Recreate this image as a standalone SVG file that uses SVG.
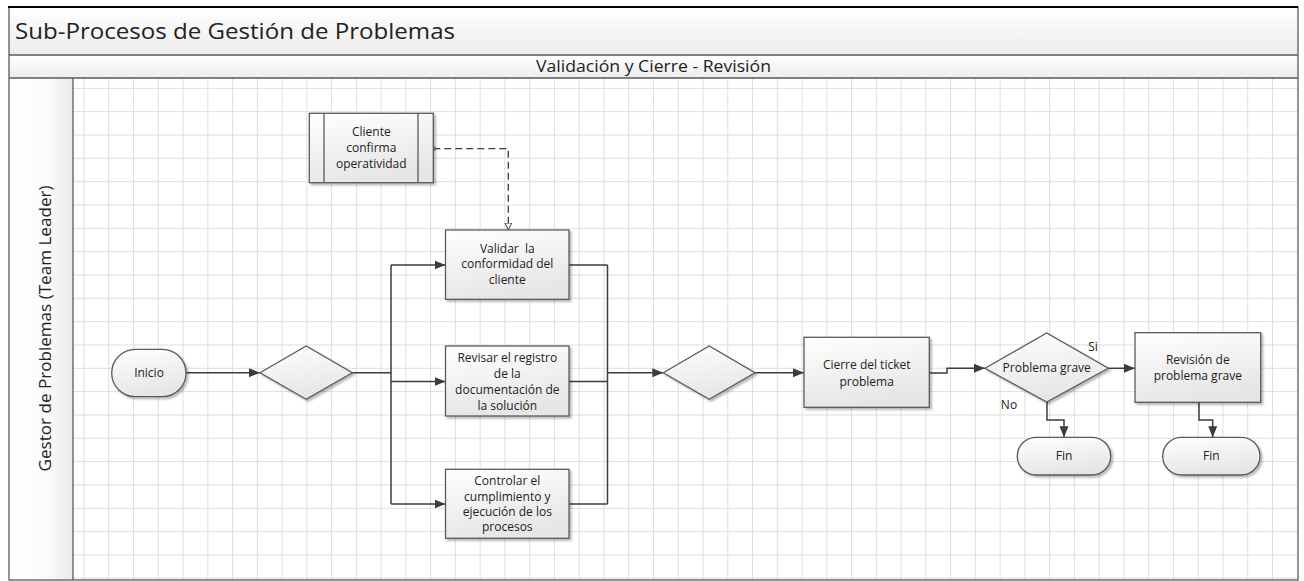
<svg xmlns="http://www.w3.org/2000/svg" width="1304" height="581" viewBox="0 0 1304 581">
  <defs>
    <linearGradient id="barFill" x1="0" y1="0" x2="0" y2="1">
      <stop offset="0" stop-color="#ffffff"/>
      <stop offset="1" stop-color="#ececec"/>
    </linearGradient>
    <linearGradient id="laneFill" x1="0" y1="0" x2="1" y2="0">
      <stop offset="0" stop-color="#ffffff"/>
      <stop offset="0.6" stop-color="#fbfbfb"/>
      <stop offset="1" stop-color="#e9e9e9"/>
    </linearGradient>
    <linearGradient id="shapeFill" x1="0" y1="0" x2="0.3" y2="1">
      <stop offset="0" stop-color="#ffffff"/>
      <stop offset="1" stop-color="#e6e6e6"/>
    </linearGradient>
    <filter id="shadow" x="-10%" y="-10%" width="130%" height="130%">
      <feDropShadow dx="2" dy="2" stdDeviation="1" flood-color="#000" flood-opacity="0.28"/>
    </filter>
    <marker id="arrow" markerUnits="userSpaceOnUse" markerWidth="12" markerHeight="10" refX="11" refY="4.5" orient="auto">
      <path d="M0,0 L11,4.5 L0,9 z" fill="#3c3c3c"/>
    </marker>
    <marker id="openArrow" markerUnits="userSpaceOnUse" markerWidth="10" markerHeight="10" refX="7" refY="4" orient="auto">
      <path d="M0.5,0.5 L7,4 L0.5,7.5 z" fill="#fff" stroke="#3c3c3c" stroke-width="1"/>
    </marker>
    <marker id="dot" markerUnits="userSpaceOnUse" markerWidth="6" markerHeight="6" refX="3" refY="3">
      <circle cx="3" cy="3" r="2" fill="#fff" stroke="#3c3c3c" stroke-width="1"/>
    </marker>
  </defs>
  <style>
    .grid line { stroke: #dedede; stroke-width: 1; }
    .frame { fill: none; stroke: #5a5a5a; stroke-width: 1.3; }
    .shape { fill: url(#shapeFill); stroke: #5a5a5a; stroke-width: 1.3; filter: url(#shadow); }
    .inner { stroke: #5a5a5a; stroke-width: 1.3; fill: none; }
    .label { font-family: "Open Sans", "Noto Sans", sans-serif; font-size: 12px; fill: #222; text-anchor: middle; }
    .conn { fill: none; stroke: #3c3c3c; stroke-width: 1.5; }
    .arrowed { marker-end: url(#arrow); }
    .dashed { stroke-dasharray: 7 4; stroke-width: 1.3; marker-start: url(#dot); marker-end: url(#openArrow); }
  </style>

  <rect width="1304" height="581" fill="#ffffff"/>

  <!-- pool header bars -->
  <rect x="9" y="7" width="1289" height="48" fill="url(#barFill)"/>
  <rect x="9" y="55" width="1289" height="23" fill="url(#barFill)"/>
  <rect x="9" y="78" width="64" height="502" fill="url(#laneFill)"/>

  <!-- background grid -->
  <g class="grid" id="grid">
    <line x1="84" y1="78" x2="84" y2="580"/><line x1="108.76" y1="78" x2="108.76" y2="580"/><line x1="133.52" y1="78" x2="133.52" y2="580"/><line x1="158.28" y1="78" x2="158.28" y2="580"/><line x1="183.04" y1="78" x2="183.04" y2="580"/><line x1="207.8" y1="78" x2="207.8" y2="580"/><line x1="232.56" y1="78" x2="232.56" y2="580"/><line x1="257.32" y1="78" x2="257.32" y2="580"/><line x1="282.08" y1="78" x2="282.08" y2="580"/><line x1="306.84" y1="78" x2="306.84" y2="580"/><line x1="331.6" y1="78" x2="331.6" y2="580"/><line x1="356.36" y1="78" x2="356.36" y2="580"/><line x1="381.12" y1="78" x2="381.12" y2="580"/><line x1="405.88" y1="78" x2="405.88" y2="580"/><line x1="430.64" y1="78" x2="430.64" y2="580"/><line x1="455.4" y1="78" x2="455.4" y2="580"/><line x1="480.16" y1="78" x2="480.16" y2="580"/><line x1="504.92" y1="78" x2="504.92" y2="580"/><line x1="529.68" y1="78" x2="529.68" y2="580"/><line x1="554.44" y1="78" x2="554.44" y2="580"/><line x1="579.2" y1="78" x2="579.2" y2="580"/><line x1="603.96" y1="78" x2="603.96" y2="580"/><line x1="628.72" y1="78" x2="628.72" y2="580"/><line x1="653.48" y1="78" x2="653.48" y2="580"/><line x1="678.24" y1="78" x2="678.24" y2="580"/><line x1="703" y1="78" x2="703" y2="580"/><line x1="727.76" y1="78" x2="727.76" y2="580"/><line x1="752.52" y1="78" x2="752.52" y2="580"/><line x1="777.28" y1="78" x2="777.28" y2="580"/><line x1="802.04" y1="78" x2="802.04" y2="580"/><line x1="826.8" y1="78" x2="826.8" y2="580"/><line x1="851.56" y1="78" x2="851.56" y2="580"/><line x1="876.32" y1="78" x2="876.32" y2="580"/><line x1="901.08" y1="78" x2="901.08" y2="580"/><line x1="925.84" y1="78" x2="925.84" y2="580"/><line x1="950.6" y1="78" x2="950.6" y2="580"/><line x1="975.36" y1="78" x2="975.36" y2="580"/><line x1="1000.12" y1="78" x2="1000.12" y2="580"/><line x1="1024.88" y1="78" x2="1024.88" y2="580"/><line x1="1049.64" y1="78" x2="1049.64" y2="580"/><line x1="1074.4" y1="78" x2="1074.4" y2="580"/><line x1="1099.16" y1="78" x2="1099.16" y2="580"/><line x1="1123.92" y1="78" x2="1123.92" y2="580"/><line x1="1148.68" y1="78" x2="1148.68" y2="580"/><line x1="1173.44" y1="78" x2="1173.44" y2="580"/><line x1="1198.2" y1="78" x2="1198.2" y2="580"/><line x1="1222.96" y1="78" x2="1222.96" y2="580"/><line x1="1247.72" y1="78" x2="1247.72" y2="580"/><line x1="1272.48" y1="78" x2="1272.48" y2="580"/>
    <line x1="73" y1="88.33" x2="1298" y2="88.33"/><line x1="73" y1="111.66" x2="1298" y2="111.66"/><line x1="73" y1="134.99" x2="1298" y2="134.99"/><line x1="73" y1="158.32" x2="1298" y2="158.32"/><line x1="73" y1="181.65" x2="1298" y2="181.65"/><line x1="73" y1="204.98" x2="1298" y2="204.98"/><line x1="73" y1="228.31" x2="1298" y2="228.31"/><line x1="73" y1="251.64" x2="1298" y2="251.64"/><line x1="73" y1="274.97" x2="1298" y2="274.97"/><line x1="73" y1="298.3" x2="1298" y2="298.3"/><line x1="73" y1="321.63" x2="1298" y2="321.63"/><line x1="73" y1="344.96" x2="1298" y2="344.96"/><line x1="73" y1="368.29" x2="1298" y2="368.29"/><line x1="73" y1="391.62" x2="1298" y2="391.62"/><line x1="73" y1="414.95" x2="1298" y2="414.95"/><line x1="73" y1="438.28" x2="1298" y2="438.28"/><line x1="73" y1="461.61" x2="1298" y2="461.61"/><line x1="73" y1="484.94" x2="1298" y2="484.94"/><line x1="73" y1="508.27" x2="1298" y2="508.27"/><line x1="73" y1="531.6" x2="1298" y2="531.6"/><line x1="73" y1="554.93" x2="1298" y2="554.93"/><line x1="73" y1="578.26" x2="1298" y2="578.26"/>
  </g>

  <!-- pool frame -->
  <g id="pool">
    <rect class="frame" x="9" y="7" width="1289" height="573"/>
    <line x1="9" y1="55" x2="1298" y2="55" stroke="#5a5a5a" stroke-width="1.3"/>
    <line x1="9" y1="78" x2="1298" y2="78" stroke="#5a5a5a" stroke-width="1.3"/>
    <line x1="73" y1="78" x2="73" y2="580" stroke="#5a5a5a" stroke-width="1.3"/>
    <line x1="8" y1="7" x2="1298" y2="7" stroke="#000" stroke-width="2"/>
    <text x="15" y="38.5" font-family="'Open Sans', 'Noto Sans', sans-serif" font-size="22.5" fill="#222" textLength="440" lengthAdjust="spacingAndGlyphs">Sub-Procesos de Gestión de Problemas</text>
    <text x="653.5" y="72" font-family="'Open Sans', 'Noto Sans', sans-serif" font-size="16.5" fill="#222" text-anchor="middle" textLength="235" lengthAdjust="spacingAndGlyphs">Validación y Cierre - Revisión</text>
    <text transform="translate(50.5,328.5) rotate(-90)" font-family="'Open Sans', 'Noto Sans', sans-serif" font-size="17" fill="#222" text-anchor="middle" textLength="286" lengthAdjust="spacingAndGlyphs">Gestor de Problemas (Team Leader)</text>
  </g>

  <!-- connectors -->
  <g id="connectors">
    <path class="conn arrowed" d="M186,372.7 H260"/>
    <path class="conn" d="M352.3,372.7 H391 M391,265 V504"/>
    <path class="conn arrowed" d="M391,265 H445.5"/>
    <path class="conn arrowed" d="M391,381.5 H445.5"/>
    <path class="conn arrowed" d="M391,504 H445.5"/>
    <path class="conn" d="M569,265 H607.5 M569,381.5 H607.5 M569,504 H607.5 M607.5,265 V504"/>
    <path class="conn arrowed" d="M607.5,372.7 H663.3"/>
    <path class="conn arrowed" d="M755,372.7 H804"/>
    <path class="conn arrowed" d="M929.3,373 H947 V368.3 H985"/>
    <path class="conn arrowed" d="M1108.3,368.3 H1135"/>
    <path class="conn arrowed" d="M1047,402 V420 H1064 V437.3"/>
    <path class="conn arrowed" d="M1199,402.3 V420 H1212.7 V437.3"/>
    <path class="conn dashed" d="M433.3,148.7 H508.3 V229.5"/>
    <text class="label" x="1093" y="351">Si</text>
    <text class="label" x="1009" y="409">No</text>
  </g>

  <!-- nodes -->
  <g id="cliente-confirma">
    <rect class="shape" x="309.3" y="113.3" width="124" height="69.4"/>
    <line class="inner" x1="324" y1="113.3" x2="324" y2="182.7"/>
    <line class="inner" x1="418" y1="113.3" x2="418" y2="182.7"/>
    <text class="label" x="371.3" y="136">Cliente</text>
    <text class="label" x="371.3" y="152">confirma</text>
    <text class="label" x="371.3" y="168">operatividad</text>
  </g>

  <g id="inicio">
    <rect class="shape" x="111.7" y="349.3" width="74.3" height="47.4" rx="23.7"/>
    <text class="label" x="149" y="377">Inicio</text>
  </g>

  <g id="gateway-split">
    <polygon class="shape" points="260,372.7 306.2,346 352.3,372.7 306.2,399.3"/>
  </g>

  <g id="validar">
    <rect class="shape" x="445.5" y="230" width="123.5" height="69.3"/>
    <text class="label" x="507.3" y="253" xml:space="preserve">Validar  la</text>
    <text class="label" x="507.3" y="268.3">conformidad del</text>
    <text class="label" x="507.3" y="284.3">cliente</text>
  </g>

  <g id="revisar">
    <rect class="shape" x="445.5" y="346" width="123.5" height="70"/>
    <text class="label" x="507.3" y="362.3">Revisar el registro</text>
    <text class="label" x="507.3" y="377.8">de la</text>
    <text class="label" x="507.3" y="394">documentación de</text>
    <text class="label" x="507.3" y="410">la solución</text>
  </g>

  <g id="controlar">
    <rect class="shape" x="445.5" y="469.3" width="123.5" height="69"/>
    <text class="label" x="507.3" y="484.7">Controlar el</text>
    <text class="label" x="507.3" y="500.7">cumplimiento y</text>
    <text class="label" x="507.3" y="516">ejecución de los</text>
    <text class="label" x="507.3" y="531.3">procesos</text>
  </g>

  <g id="gateway-join">
    <polygon class="shape" points="663.3,372.7 709.2,346 755,372.7 709.2,399.3"/>
  </g>

  <g id="cierre-ticket">
    <rect class="shape" x="804" y="337.3" width="125.3" height="70"/>
    <text class="label" x="866.7" y="369">Cierre del ticket</text>
    <text class="label" x="866.7" y="385.7">problema</text>
  </g>

  <g id="problema-grave">
    <polygon class="shape" points="985,368.3 1046.7,333 1108.3,368.3 1046.7,402"/>
    <text class="label" x="1046.7" y="372.3">Problema grave</text>
  </g>

  <g id="revision-grave">
    <rect class="shape" x="1135" y="332.7" width="125.7" height="69.6"/>
    <text class="label" x="1197.8" y="363.5">Revisión de</text>
    <text class="label" x="1197.8" y="379.5">problema grave</text>
  </g>

  <g id="fin-no">
    <rect class="shape" x="1017.3" y="437.3" width="93.4" height="37.7" rx="18.8"/>
    <text class="label" x="1064" y="460">Fin</text>
  </g>

  <g id="fin-revision">
    <rect class="shape" x="1162.7" y="437.3" width="97.3" height="37.7" rx="18.8"/>
    <text class="label" x="1211.3" y="460">Fin</text>
  </g>
</svg>
